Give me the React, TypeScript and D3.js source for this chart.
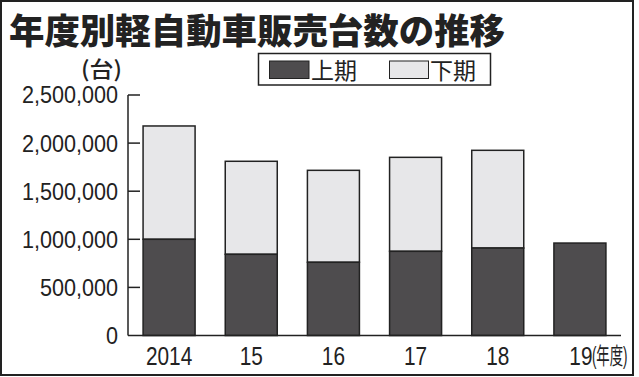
import React from "react";
import * as d3 from "d3";

const categories = ["2014", "15", "16", "17", "18", "19"];
const firstHalf = [1000000, 844000, 761000, 875000, 909000, 961000];
const secondHalf = [1178000, 967000, 956000, 977000, 1016000, 0];
const yTicks = [0, 500000, 1000000, 1500000, 2000000, 2500000];
const title = "年度別軽自動車販売台数の推移";
const seriesNames = ["上期", "下期"];
const xUnit = "年度";

const W = 639;
const H = 377;
const DARK = "#4e4c4e";
const LIGHT = "#e7e7e9";
const FONT = "'Liberation Sans', Arial, sans-serif";
const JFONT = "'Noto Sans CJK JP', sans-serif";

export default function App() {
  const x = d3.scaleBand<string>().domain(categories).range([128, 621]).paddingInner(0.367).paddingOuter(0.1835);
  const y = d3.scaleLinear().domain([0, 2500000]).range([335.5, 95]);
  const fmt = d3.format(",");

  return (
    <svg width={W} height={H} style={{ position: "absolute", left: 0, top: 0, background: "#fff" }}>
      <rect x={1} y={1} width={632} height={374} fill="#fff" stroke="#222" strokeWidth={2} />
      <text x={9} y={44} fontFamily={JFONT} fontWeight={900} fontSize={35} fill="#222" textLength={496} lengthAdjust="spacingAndGlyphs">
        {title}
      </text>
      {/* unit label */}
      <text x={81} y={77} fontFamily={JFONT} fontWeight={500} fontSize={22} fill="#222" textLength={41} lengthAdjust="spacingAndGlyphs">
        (台)
      </text>
      {/* legend */}
      <g>
        <rect x={258.5} y={53.5} width={232} height={31.5} fill="#fff" stroke="#222" strokeWidth={1.5} />
        <rect x={269.5} y={61} width={39.5} height={17.5} fill={DARK} stroke="#222" strokeWidth={1} />
        <text x={311} y={79} fontFamily={JFONT} fontSize={23} fill="#222">{seriesNames[0]}</text>
        <rect x={389.5} y={61} width={39} height={17.5} fill={LIGHT} stroke="#222" strokeWidth={1} />
        <text x={430} y={79} fontFamily={JFONT} fontSize={23} fill="#222">{seriesNames[1]}</text>
      </g>
      {/* bars */}
      {categories.map((c, i) => {
        const bx = x(c)!;
        const bw = x.bandwidth();
        const yTop1 = y(firstHalf[i]);
        const total = firstHalf[i] + secondHalf[i];
        return (
          <g key={c}>
            {secondHalf[i] > 0 && (
              <rect x={bx} y={y(total)} width={bw} height={yTop1 - y(total)} fill={LIGHT} stroke="#222" strokeWidth={1.5} />
            )}
            <rect x={bx} y={yTop1} width={bw} height={y(0) - yTop1} fill={DARK} stroke="#222" strokeWidth={1.5} />
          </g>
        );
      })}
      {/* axes */}
      <line x1={128} x2={128} y1={y(2500000)} y2={y(0)} stroke="#222" strokeWidth={1.5} />
      <line x1={128} x2={621} y1={y(0)} y2={y(0)} stroke="#222" strokeWidth={1.5} />
      {yTicks.map((t) => (
        <g key={t}>
          {t > 0 && <line x1={128} x2={140} y1={y(t)} y2={y(t)} stroke="#222" strokeWidth={1.5} />}
          <text
            x={118}
            y={y(t) + 8.5}
            textAnchor="end"
            fontFamily={FONT}
            fontSize={23.5}
            fill="#222"
            transform={`translate(118,0) scale(0.92,1) translate(-118,0)`}
          >
            {fmt(t)}
          </text>
        </g>
      ))}
      {categories.map((c, i) => {
        const cx = x(c)! + x.bandwidth() / 2 + (i === categories.length - 1 ? 1 : 0);
        return (
          <g key={c}>
            <g transform={`translate(${cx},365) scale(0.8,1)`}>
              <text x={0} y={0} textAnchor="middle" fontFamily={FONT} fontSize={26} fill="#222">
                {c}
              </text>
            </g>
            {i === categories.length - 1 && (
              <g transform={`translate(${cx + 11},364) scale(0.58,1)`}>
                <text x={0} y={0} fontSize={23} fill="#222" fontFamily={FONT}>
                  <tspan>(</tspan>
                  <tspan fontFamily={JFONT}>{xUnit}</tspan>
                  <tspan>)</tspan>
                </text>
              </g>
            )}
          </g>
        );
      })}
    </svg>
  );
}
